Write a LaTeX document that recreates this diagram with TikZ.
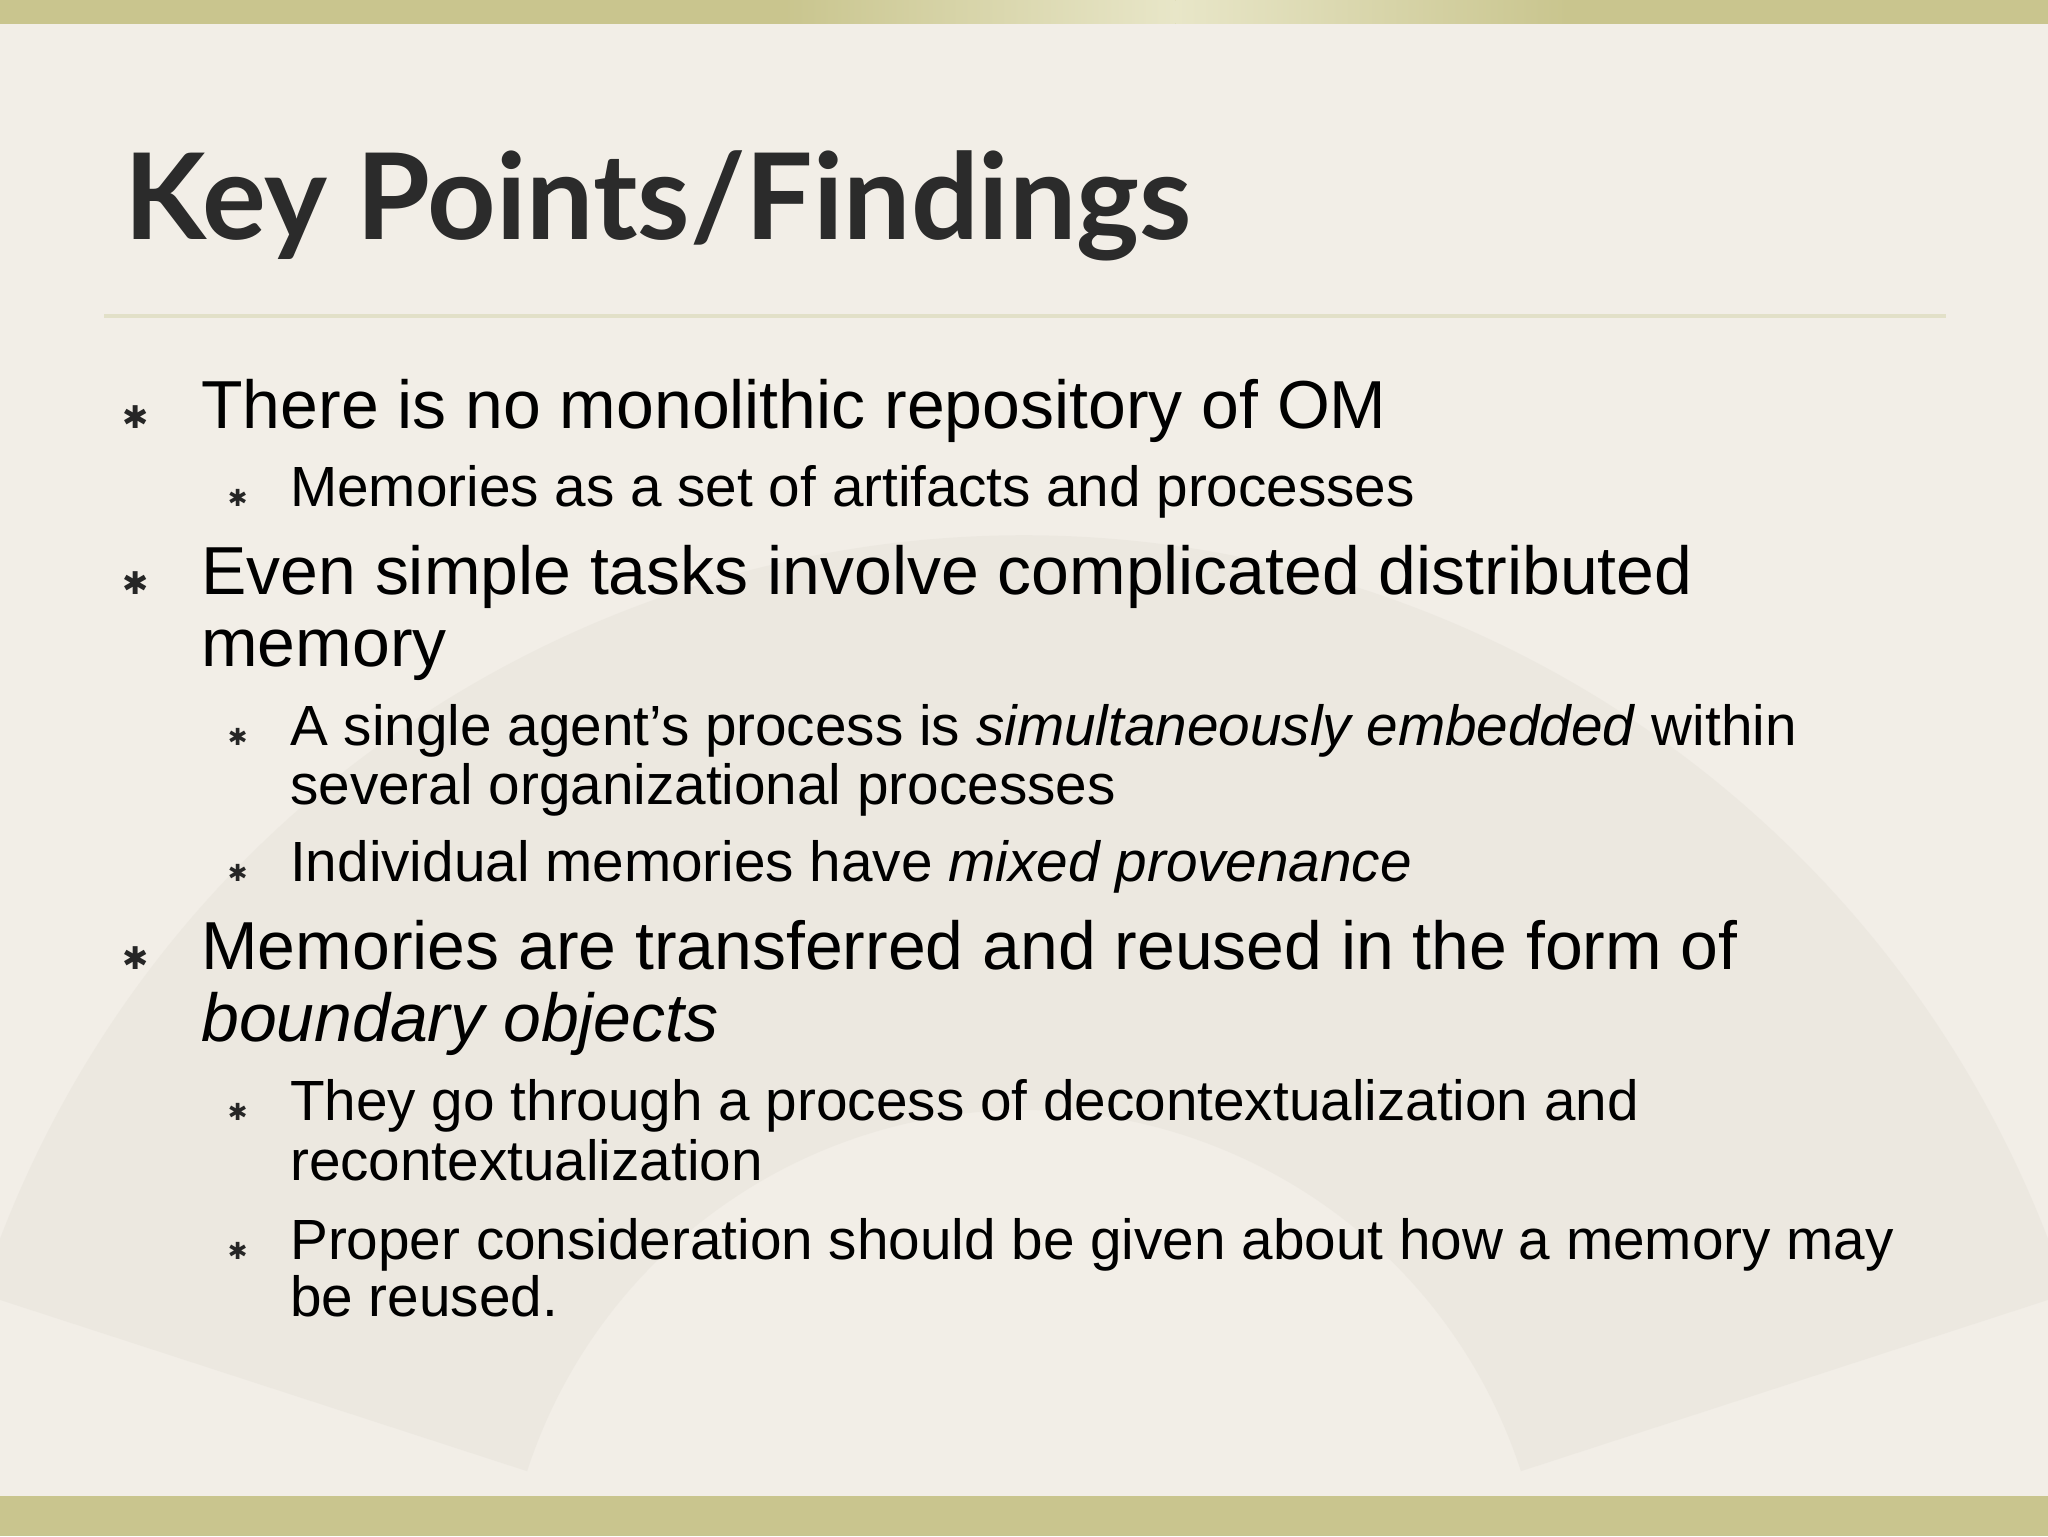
\documentclass[tikz,border=0pt]{standalone}
\usepackage{fontspec}
\setmainfont{Liberation Sans}
\newfontfamily\titlefont{Lato}
\newfontfamily\symfont{DejaVu Sans}
\definecolor{bg}{HTML}{F2EEE7}
\definecolor{fan}{HTML}{E8E4DC}
\definecolor{bar}{HTML}{C9C58E}
\definecolor{barlight}{HTML}{E8E6C8}
\definecolor{rule}{HTML}{E2E0C8}
\definecolor{titlec}{HTML}{2B2B2B}
\tikzset{
  lone/.style={anchor=base west,inner sep=0pt,font=\fontsize{52}{55}\selectfont},
  ltwo/.style={anchor=base west,inner sep=0pt,font=\fontsize{43.4}{45}\selectfont},
  bone/.style={anchor=base,inner sep=0pt,font=\symfont\fontsize{24}{24}\selectfont,text=black!85},
  btwo/.style={anchor=base,inner sep=0pt,font=\symfont\fontsize{18}{18}\selectfont,text=black!85},
}
\begin{document}
\begin{tikzpicture}[x=1pt,y=-1pt]
\fill[bg] (0,0) rectangle (1568,1176);
\useasboundingbox (0,0) rectangle (1568,1176);
% faint fan
\begin{scope}[y=1pt]
\fill[fan,opacity=0.55] (784,-1250) ++(162:840) arc[start angle=162,end angle=18,radius=840]
  -- ++(198:440) arc[start angle=18,end angle=162,radius=400] -- cycle;
\end{scope}
\fill[bar] (0,0) rectangle (1568,18);
\shade[left color=bar,right color=barlight] (600,0) rectangle (900,18);
\shade[left color=barlight,right color=bar] (900,0) rectangle (1200,18);
\fill[bar] (0,1145) rectangle (1568,1176);
\draw[line width=2.5pt,color=rule] (80,242) -- (1490,242);
\node[anchor=base west,inner sep=0pt,text=titlec,font=\titlefont\bfseries\fontsize{91.5}{92}\selectfont] (title) at (95,183) {Key Points/Findings};
\node[bone] (b1) at (104,328) {✱};
\node[lone] (t1) at (154,328) {There is no monolithic repository of OM};
\node[btwo] (b11) at (182,388) {✱};
\node[ltwo] (t11) at (222,388) {Memories as a set of artifacts and processes};
\node[bone] (b2) at (104,455) {✱};
\node[lone] (t2) at (154,455) {Even simple tasks involve complicated distributed};
\node[lone] (t2b) at (154,510) {memory};
\node[btwo] (b21) at (182,571) {✱};
\node[ltwo] (t21) at (222,571) {A single agent’s process is \textit{simultaneously embedded} within};
\node[ltwo] (t21b) at (222,616) {several organizational processes};
\node[btwo] (b22) at (182,675) {✱};
\node[ltwo] (t22) at (222,675) {Individual memories have \textit{mixed provenance}};
\node[bone] (b3) at (104,742) {✱};
\node[lone] (t3) at (154,742) {Memories are transferred and reused in the form of};
\node[lone] (t3b) at (154,797) {\textit{boundary objects}};
\node[btwo] (b31) at (182,858) {✱};
\node[ltwo] (t31) at (222,858) {They go through a process of decontextualization and};
\node[ltwo] (t31b) at (222,904) {recontextualization};
\node[btwo] (b32) at (182,964) {✱};
\node[ltwo] (t32) at (222,964) {Proper consideration should be given about how a memory may};
\node[ltwo] (t32b) at (222,1008) {be reused.};
\end{tikzpicture}
\end{document}
